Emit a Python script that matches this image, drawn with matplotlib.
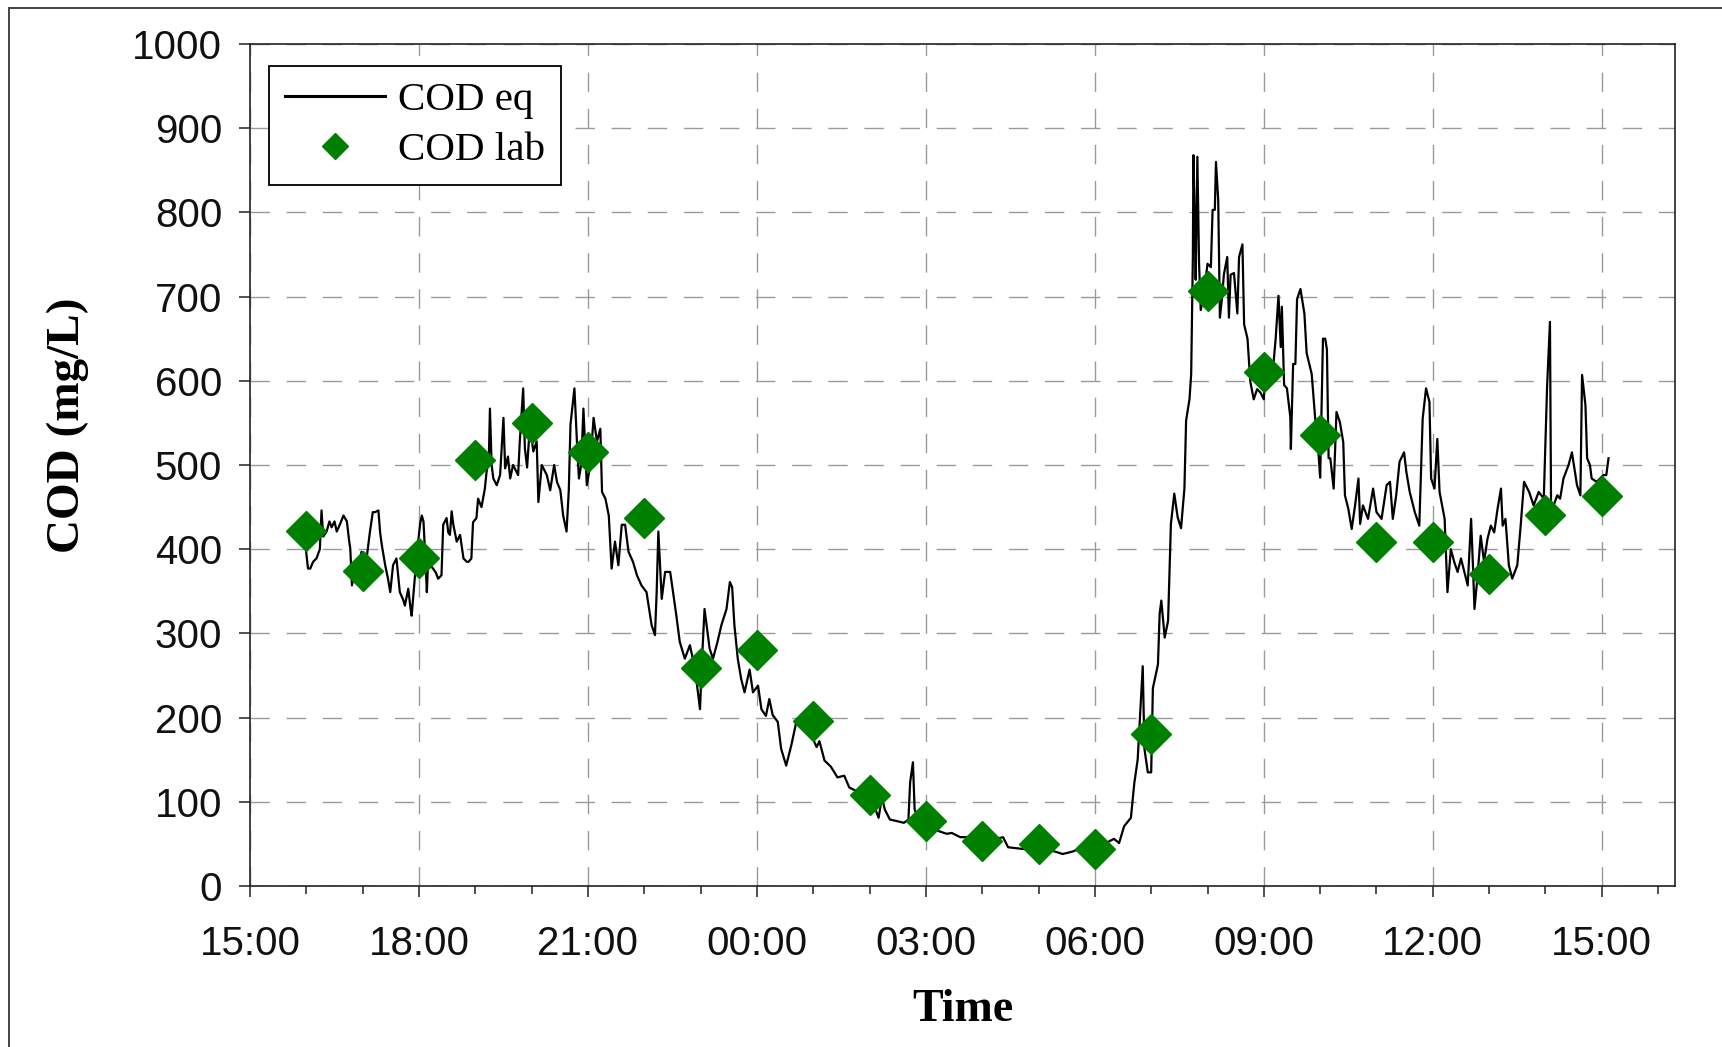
import matplotlib
matplotlib.use("Agg")
import matplotlib.pyplot as plt
from matplotlib.lines import Line2D
from matplotlib.ticker import FixedLocator, MultipleLocator

# hours after 15:00 on day one
eq_hours = [
    0.98, 1.00, 1.03, 1.07, 1.12, 1.18, 1.24, 1.27, 1.30, 1.36, 1.41, 1.45, 1.50, 1.54, 1.60, 1.66,
    1.72, 1.76, 1.78, 1.81, 1.85, 1.89, 1.94, 1.98, 2.03, 2.07, 2.13, 2.18, 2.22, 2.28, 2.31, 2.34,
    2.40, 2.45, 2.49, 2.54, 2.60, 2.66, 2.72, 2.75, 2.81, 2.85, 2.87, 2.93, 2.96, 3.02, 3.05, 3.08,
    3.12, 3.14, 3.17, 3.21, 3.25, 3.30, 3.34, 3.40, 3.43, 3.49, 3.52, 3.55, 3.58, 3.61, 3.67, 3.73,
    3.79, 3.85, 3.88, 3.93, 3.96, 4.02, 4.05, 4.11, 4.17, 4.20, 4.24, 4.26, 4.29, 4.32, 4.38, 4.44,
    4.50, 4.53, 4.58, 4.62, 4.67, 4.76, 4.79, 4.85, 4.88, 4.92, 4.97, 5.03, 5.09, 5.12, 5.18, 5.27,
    5.33, 5.40, 5.45, 5.51, 5.56, 5.62, 5.66, 5.69, 5.76, 5.81, 5.84, 5.88, 5.92, 5.98, 6.04, 6.10,
    6.16, 6.22, 6.25, 6.31, 6.37, 6.42, 6.48, 6.54, 6.60, 6.66, 6.72, 6.80, 6.87, 6.95, 7.04, 7.13,
    7.19, 7.22, 7.25, 7.31, 7.37, 7.46, 7.51, 7.57, 7.63, 7.72, 7.81, 7.90, 7.99, 8.02, 8.07, 8.16,
    8.22, 8.30, 8.37, 8.46, 8.52, 8.56, 8.60, 8.66, 8.72, 8.78, 8.87, 8.93, 9.02, 9.08, 9.16, 9.22,
    9.28, 9.37, 9.43, 9.52, 9.61, 9.70, 9.80, 9.88, 10.02, 10.06, 10.11, 10.20, 10.31, 10.43, 10.55,
    10.64, 10.82, 10.94, 11.02, 11.11, 11.16, 11.22, 11.27, 11.36, 11.49, 11.61, 11.69, 11.72, 11.77,
    11.80, 11.89, 11.96, 12.14, 12.19, 12.37, 12.46, 12.61, 12.78, 12.89, 13.19, 13.37, 13.46, 13.72,
    14.19, 14.43, 14.61, 14.78, 15.08, 15.34, 15.43, 15.52, 15.64, 15.70, 15.76, 15.82, 15.85, 15.88,
    15.94, 16.00, 16.03, 16.12, 16.15, 16.18, 16.24, 16.30, 16.35, 16.41, 16.47, 16.53, 16.59, 16.62,
    16.68, 16.71, 16.74, 16.75, 16.77, 16.79, 16.82, 16.85, 16.88, 16.94, 17.00, 17.06, 17.09, 17.13,
    17.15, 17.19, 17.22, 17.26, 17.29, 17.35, 17.38, 17.41, 17.47, 17.53, 17.56, 17.62, 17.65, 17.71,
    17.76, 17.82, 17.88, 17.94, 18.00, 18.03, 18.09, 18.15, 18.21, 18.26, 18.30, 18.32, 18.36, 18.41,
    18.47, 18.48, 18.52, 18.56, 18.59, 18.65, 18.72, 18.76, 18.85, 18.91, 18.97, 19.00, 19.05, 19.09,
    19.12, 19.15, 19.18, 19.24, 19.29, 19.35, 19.41, 19.44, 19.50, 19.56, 19.62, 19.68, 19.71, 19.76,
    19.85, 19.94, 20.00, 20.09, 20.18, 20.24, 20.29, 20.35, 20.41, 20.49, 20.53, 20.59, 20.68, 20.76,
    20.82, 20.88, 20.94, 20.97, 21.03, 21.08, 21.12, 21.21, 21.26, 21.32, 21.38, 21.44, 21.50, 21.56,
    21.62, 21.68, 21.71, 21.74, 21.79, 21.85, 21.91, 21.97, 22.03, 22.09, 22.15, 22.21, 22.24, 22.29,
    22.35, 22.41, 22.50, 22.56, 22.62, 22.71, 22.79, 22.88, 22.97, 23.03, 23.08, 23.10, 23.21, 23.26,
    23.32, 23.41, 23.47, 23.56, 23.62, 23.65, 23.71, 23.74, 23.79, 23.82, 23.91, 24.03, 24.08, 24.12,
]
eq_cod = [
    421, 395, 377, 377, 385, 389, 400, 446, 415, 421, 433, 426, 433, 421, 430, 440,
    433, 410, 401, 357, 370, 373, 385, 397, 390, 389, 421, 444, 444, 446, 420, 405,
    381, 365, 349, 381, 389, 349, 340, 333, 353, 330, 321, 369, 393, 430, 440, 433,
    380, 349, 400, 380, 377, 372, 365, 369, 429, 437, 420, 417, 445, 429, 409, 417,
    389, 385, 385, 389, 432, 437, 460, 450, 472, 492, 508, 567, 500, 484, 476, 488,
    556, 496, 510, 484, 500, 488, 528, 591, 520, 497, 548, 516, 528, 456, 500, 488,
    470, 500, 480, 470, 440, 421, 470, 548, 591, 520, 484, 500, 567, 476, 500, 556,
    528, 543, 468, 460, 440, 377, 409, 381, 429, 429, 397, 385, 369, 357, 349, 310,
    298, 349, 421, 341, 373, 373, 349, 321, 290, 270, 286, 258, 210, 262, 329, 282,
    270, 290, 310, 329, 361, 355, 310, 270, 246, 230, 257, 230, 238, 210, 202, 222,
    203, 195, 163, 143, 167, 195, 198, 195, 171, 165, 172, 149, 142, 129, 131,
    117, 111, 107, 97, 90, 81, 105, 91, 79, 77, 75, 79, 123, 147,
    91, 75, 73, 64, 66, 62, 63, 58, 58, 53, 55, 58, 46, 44,
    43, 38, 41, 46, 47, 56, 51, 71, 81, 122, 150, 223, 261, 163,
    135, 135, 235, 263, 323, 339, 295, 315, 430, 466, 438, 425, 472, 553,
    578, 608, 747, 868, 800, 720, 866, 739, 684, 705, 739, 735, 803, 803,
    860, 815, 675, 700, 726, 747, 675, 726, 728, 680, 747, 762, 667, 650,
    599, 578, 590, 586, 578, 612, 600, 604, 650, 701, 640, 688, 595, 591,
    557, 519, 620, 620, 697, 709, 680, 633, 608, 557, 514, 485, 650, 650,
    637, 508, 508, 472, 563, 551, 527, 464, 448, 424, 452, 484, 430, 452,
    436, 472, 444, 436, 476, 480, 436, 464, 504, 515, 492, 468, 444, 428,
    555, 591, 575, 484, 472, 531, 468, 436, 349, 400, 385, 373, 389, 373,
    357, 436, 385, 329, 365, 416, 385, 412, 428, 420, 448, 472, 428, 436,
    381, 365, 381, 428, 480, 468, 452, 468, 460, 595, 670, 444, 464, 460,
    484, 500, 515, 476, 464, 607, 571, 508, 500, 484, 480, 488, 488, 508,
]

lab_hours = list(range(1, 25))
lab_cod = [422, 374, 390, 506, 550, 515, 437, 259, 280, 196, 108, 77,
           53, 50, 44, 181, 707, 611, 536, 409, 409, 370, 441, 463]

tick_hours = [0, 3, 6, 9, 12, 15, 18, 21, 24]
tick_labels = ["15:00", "18:00", "21:00", "00:00", "03:00", "06:00", "09:00", "12:00", "15:00"]

W, H = 1722, 1047
fig = plt.figure(figsize=(W / 100, H / 100), dpi=100)
ax = fig.add_axes([250 / W, 1 - 886 / H, 1425 / W, 842 / H])

ax.plot(eq_hours, eq_cod, color="black", lw=1.6, label="COD eq", zorder=3)
ax.plot(lab_hours, lab_cod, ls="none", marker="D", ms=20, color="#008000",
        mec="#008000", label="COD lab", zorder=4)

ax.set_xlim(0, 25.3)
ax.set_ylim(0, 1000)
ax.xaxis.set_major_locator(FixedLocator(tick_hours))
ax.set_xticklabels(tick_labels)
ax.xaxis.set_minor_locator(MultipleLocator(1))
ax.yaxis.set_major_locator(MultipleLocator(100))

ax.grid(True, which="major", color="#9a9a9a", lw=1.0, ls=(0, (14, 12)))
ax.set_axisbelow(True)

for s in ax.spines.values():
    s.set_linewidth(1.2)
    s.set_color("#222222")

ax.tick_params(axis="both", which="major", direction="out", length=8, width=1.1,
               labelsize=29, color="#222222")
ax.tick_params(axis="x", which="minor", direction="out", length=6, width=1.1, color="#222222")
ax.tick_params(axis="x", which="major", pad=20)
ax.tick_params(axis="y", which="major", pad=12)
for lbl in ax.get_xticklabels() + ax.get_yticklabels():
    lbl.set_fontfamily("Liberation Sans")
    lbl.set_color("#111111")

ax.set_xlabel("Time", fontfamily="Liberation Serif", fontweight="bold", fontsize=33, va="baseline")
ax.xaxis.set_label_coords(0.5, (886 - 1021) / 842)
ax.set_ylabel("COD (mg/L)", fontfamily="Liberation Serif", fontweight="bold", fontsize=34, va="baseline")
ax.yaxis.set_label_coords((79 - 250) / 1425, 0.547)

leg = ax.legend(loc="upper left", bbox_to_anchor=(19 / 1425, 1 - 22 / 842), borderaxespad=0,
                prop={"family": "Liberation Serif", "size": 29.5}, frameon=True, fancybox=False,
                edgecolor="black", framealpha=1, markerscale=0.64, handlelength=2.45,
                handletextpad=0.33, borderpad=0.38, labelspacing=0.3)
leg.get_frame().set_linewidth(1.3)
leg.get_lines()[0].set_linewidth(2.2)

# outer frame of the figure (cut on the right and bottom)
fx = 9 / W
fy = 1 - 8 / H
fig.add_artist(Line2D([fx, fx], [0, fy], transform=fig.transFigure, color="#444444", lw=1.4))
fig.add_artist(Line2D([fx, 1], [fy, fy], transform=fig.transFigure, color="#444444", lw=1.4))

fig.savefig("out.png", dpi=100)
